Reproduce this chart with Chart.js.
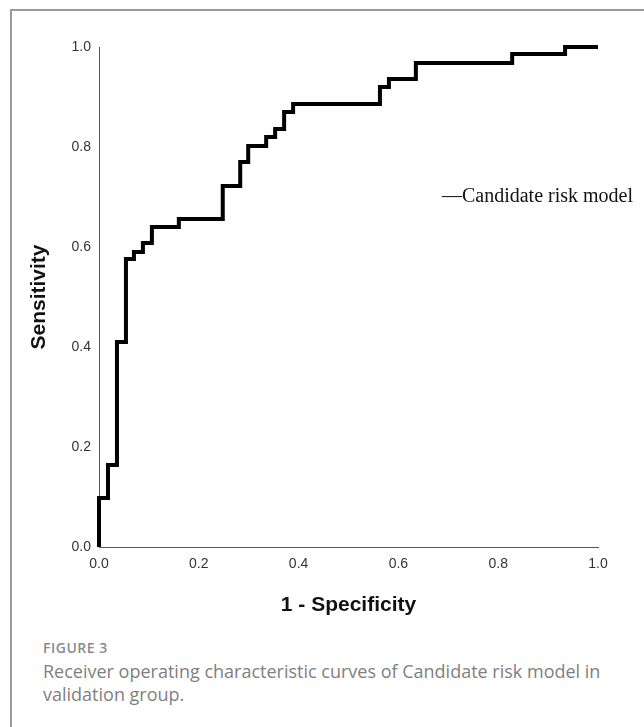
<!DOCTYPE html>
<html>
<head>
<meta charset="utf-8">
<script src="https://cdn.jsdelivr.net/npm/chart.js@4"></script>
<style>
  body { margin: 0; background: #fff; width: 644px; height: 727px; overflow: hidden; position: relative; }
  .frame { position: absolute; left: 10px; top: 9px; width: 700px; height: 800px;
           border-left: 2px solid #9a9a9a; border-top: 2px solid #9a9a9a; }
  #wrap { position: absolute; left: 0; top: 0; width: 644px; height: 630px; }
  .fig-label { position: absolute; left: 43px; top: 638px; font: 600 14px "Open Sans", sans-serif;
               color: #8a8a8a; letter-spacing: 0.5px; }
  .fig-caption { position: absolute; left: 43px; top: 660px; width: 600px; font: 18px "Open Sans", sans-serif;
                 color: #7f7f7f; line-height: 23px; }
</style>
</head>
<body>
<div class="frame"></div>
<div id="wrap"><canvas id="rocChart"></canvas></div>
<div class="fig-label">FIGURE 3</div>
<div class="fig-caption">Receiver operating characteristic curves of Candidate risk model in<br>validation group.</div>
<script>
// ROC curve corner points (1 - specificity, sensitivity)
const fpr = [0, 0, 0.018, 0.036, 0.054, 0.070, 0.088, 0.106, 0.160, 0.248, 0.283,
             0.299, 0.335, 0.353, 0.371, 0.389, 0.563, 0.581, 0.635, 0.828, 0.934, 1.0];
const tpr = [0, 0.098, 0.164, 0.410, 0.576, 0.590, 0.608, 0.640, 0.656, 0.722, 0.770,
             0.802, 0.820, 0.836, 0.870, 0.886, 0.920, 0.936, 0.968, 0.986, 1.0, 1.0];
const tickValues = [0, 0.2, 0.4, 0.6, 0.8, 1.0];
const seriesLabel = 'Candidate risk model';

const points = fpr.map((x, i) => ({ x: x, y: tpr[i] }));

// draws the "—Candidate risk model" key inside the plot
const legendText = {
  id: 'legendText',
  afterDraw(chart) {
    const ctx = chart.ctx;
    ctx.save();
    ctx.font = '20px "Liberation Serif", "Times New Roman", serif';
    ctx.fillStyle = '#111';
    ctx.textAlign = 'right';
    ctx.textBaseline = 'middle';
    ctx.fillText('\u2014' + seriesLabel, chart.chartArea.right + 35, 197);
    ctx.restore();
  }
};

const tickFont = { family: '"Liberation Sans", Arial, sans-serif', size: 14 };
const titleFont = { family: '"Liberation Sans", Arial, sans-serif', size: 21, weight: 'bold' };

new Chart(document.getElementById('rocChart'), {
  type: 'line',
  data: {
    datasets: [{
      label: seriesLabel,
      data: points,
      stepped: 'before',
      borderColor: '#000',
      borderWidth: 4,
      pointRadius: 0,
      fill: false,
      clip: false
    }]
  },
  options: {
    responsive: true,
    maintainAspectRatio: false,
    animation: false,
    layout: { padding: { left: 0, right: 46, top: 47, bottom: 0 } },
    plugins: {
      legend: { display: false },
      tooltip: { enabled: false }
    },
    scales: {
      x: {
        type: 'linear',
        min: 0,
        max: 1,
        afterFit: (scale) => { scale.height = 83; },
        afterBuildTicks: (scale) => { scale.ticks = tickValues.map(v => ({ value: v })); },
        grid: { display: false, drawTicks: false },
        border: { display: true, color: '#555', width: 1 },
        ticks: { padding: 9, color: '#333', font: tickFont, maxRotation: 0,
                 callback: (v) => Number(v).toFixed(1) },
        title: { display: true, text: '1 - Specificity', color: '#111', font: titleFont,
                 padding: { top: 0, bottom: 12 } }
      },
      y: {
        min: 0,
        max: 1,
        afterFit: (scale) => { scale.width = 99; },
        afterBuildTicks: (scale) => { scale.ticks = tickValues.map(v => ({ value: v })); },
        grid: { display: false, drawTicks: false },
        border: { display: true, color: '#555', width: 1 },
        ticks: { padding: 8, color: '#333', font: tickFont,
                 callback: (v) => Number(v).toFixed(1) },
        title: { display: true, text: 'Sensitivity', color: '#111', font: titleFont,
                 padding: { top: 27, bottom: 0 } }
      }
    }
  },
  plugins: [legendText]
});
</script>
</body>
</html>
